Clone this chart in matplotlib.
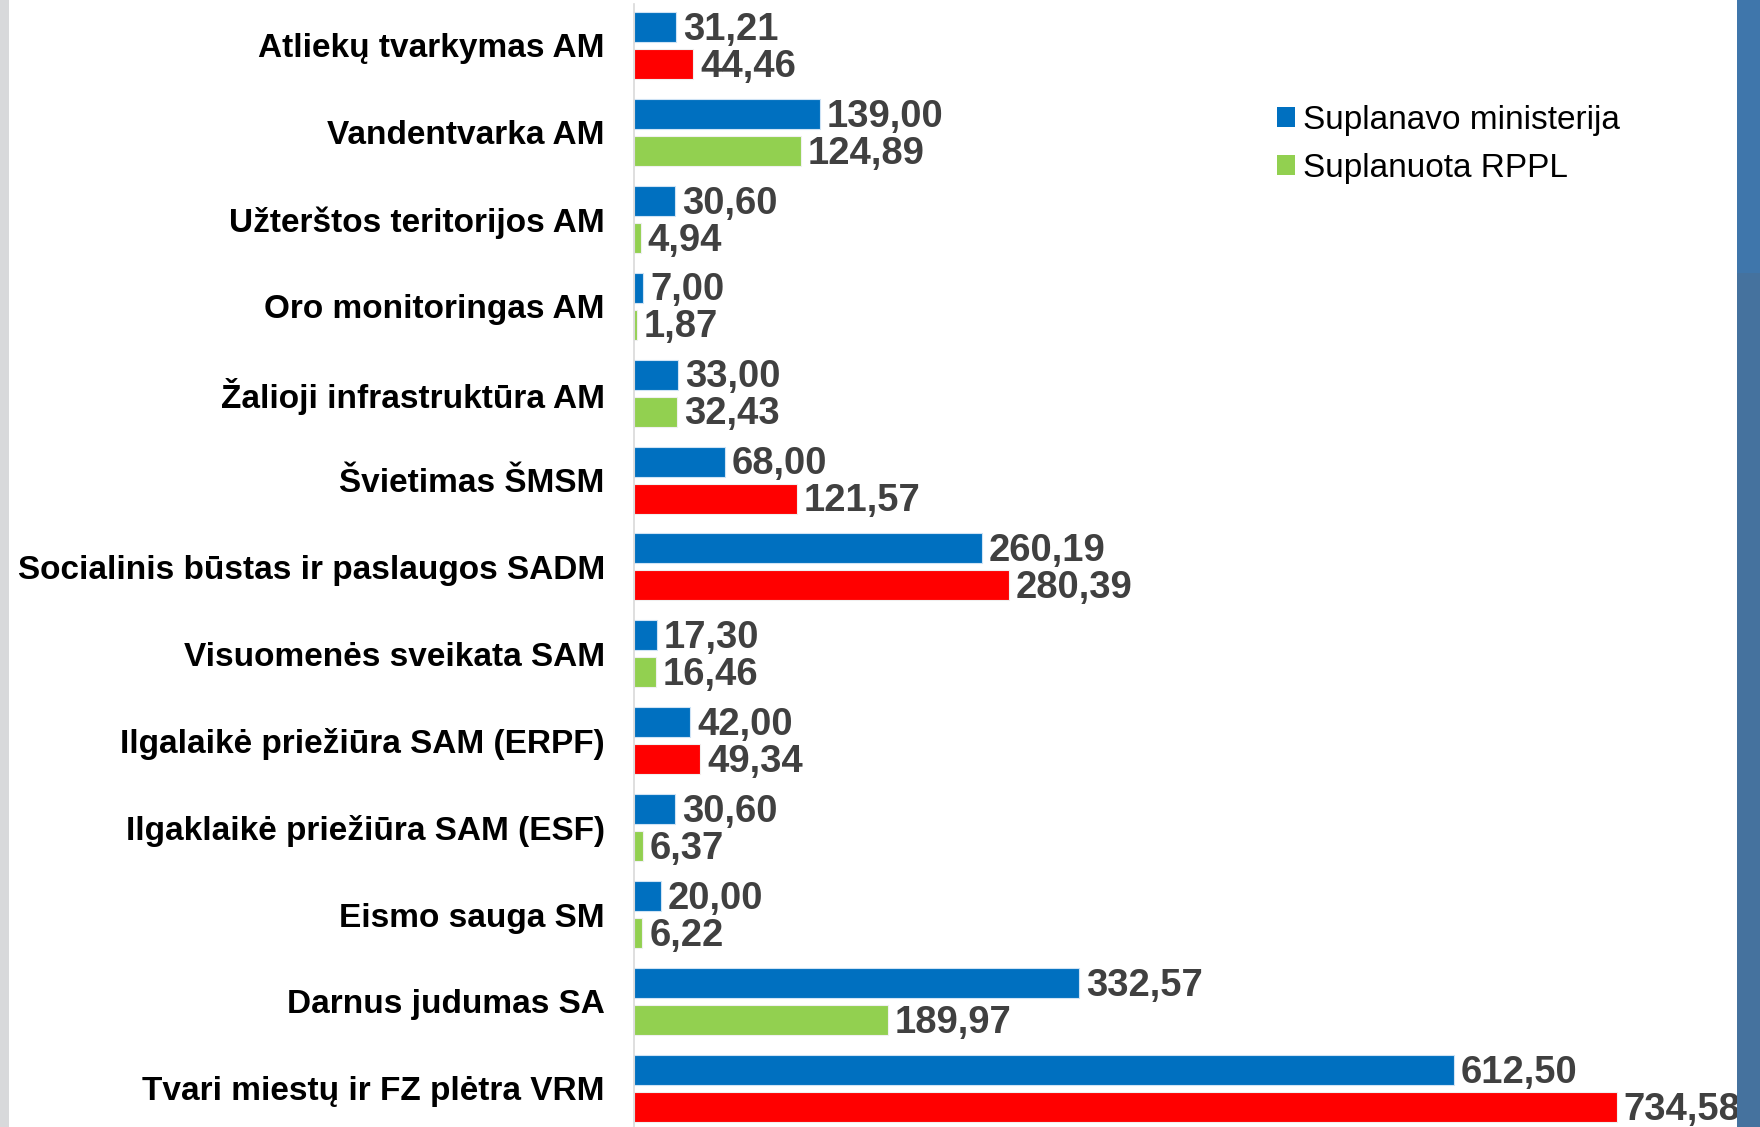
import matplotlib
matplotlib.use("Agg")
import matplotlib.pyplot as plt
from matplotlib.patches import Rectangle, Patch
import numpy as np

categories = [
    "Atliekų tvarkymas AM",
    "Vandentvarka AM",
    "Užterštos teritorijos AM",
    "Oro monitoringas AM",
    "Žalioji infrastruktūra AM",
    "Švietimas ŠMSM",
    "Socialinis būstas ir paslaugos SADM",
    "Visuomenės sveikata SAM",
    "Ilgalaikė priežiūra SAM (ERPF)",
    "Ilgaklaikė priežiūra SAM (ESF)",
    "Eismo sauga SM",
    "Darnus judumas SA",
    "Tvari miestų ir FZ plėtra VRM",
]
ministry = [31.21, 139.00, 30.60, 7.00, 33.00, 68.00, 260.19, 17.30, 42.00, 30.60, 20.00, 332.57, 612.50]
rppl = [44.46, 124.89, 4.94, 1.87, 32.43, 121.57, 280.39, 16.46, 49.34, 6.37, 6.22, 189.97, 734.58]
legend_labels = ["Suplanavo ministerija", "Suplanuota RPPL"]

BLUE = "#0070C0"
GREEN = "#92D050"
RED = "#FF0000"
VAL_COLOR = "#404040"

plt.rcParams['font.family'] = ['Liberation Sans', 'DejaVu Sans']

W, H = 1760, 1127
fig = plt.figure(figsize=(W / 100, H / 100), dpi=100)
fig.patch.set_facecolor("white")

# slide background strips
fig.patches.append(Rectangle((0, 0), 9 / W, 1, transform=fig.transFigure,
                             facecolor="#d8d9db", edgecolor="none", zorder=0))
fig.patches.append(Rectangle((1737 / W, 0), 1 - 1737 / W, 1, transform=fig.transFigure,
                             facecolor="#45729e", edgecolor="none", zorder=0))
fig.patches.append(Rectangle((1737 / W, 1 - 273 / H), 1 - 1737 / W, 273 / H, transform=fig.transFigure,
                             facecolor="#3f76ab", edgecolor="none", zorder=0))

x0 = 634
scale = 1.338  # px per unit
ax = fig.add_axes([x0 / W, 0, (1737 - x0) / W, 1])
ax.set_facecolor("none")
ax.set_xlim(0, (1737 - x0) / scale)
spacing = 86.9
c0 = 45.5
ax.set_ylim((H - c0) / spacing, -c0 / spacing)

n = len(categories)
y = np.arange(n)
off = 18.5 / spacing
h = 30 / spacing
rcolors = [RED if r > m else GREEN for m, r in zip(ministry, rppl)]

ax.barh(y - off, ministry, height=h, color=BLUE, edgecolor="#cfe3f5", linewidth=0.8)
ax.barh(y + off, rppl, height=h, color=rcolors, edgecolor="#f0f0f0", linewidth=0.8)

def fmt(v):
    return f"{v:.2f}".replace(".", ",")

for i in range(n):
    ax.annotate(fmt(ministry[i]), (ministry[i], y[i] - off), xytext=(5, -2),
                textcoords="offset points", va="center", ha="left",
                fontsize=27.5, fontweight="bold", color=VAL_COLOR, clip_on=False)
    ax.annotate(fmt(rppl[i]), (rppl[i], y[i] + off), xytext=(5, -2),
                textcoords="offset points", va="center", ha="left",
                fontsize=27.5, fontweight="bold", color=VAL_COLOR, clip_on=False)

ax.set_yticks(y)
ax.set_yticklabels(categories, fontsize=24, fontweight="bold", color="black")
ax.tick_params(axis="y", length=0, pad=21)
ax.set_xticks([])
for s in ["top", "right", "bottom"]:
    ax.spines[s].set_visible(False)
ax.spines["left"].set_color("#d9d9d9")
ax.spines["left"].set_linewidth(1.2)
ax.spines["left"].set_bounds((H - c0) / spacing, (-c0 + 4) / spacing)

handles = [Patch(facecolor=BLUE, edgecolor="none"), Patch(facecolor=GREEN, edgecolor="none")]
fig.legend(handles, legend_labels, loc="upper left", bbox_to_anchor=(1277 / W, 1 - 105 / H),
           frameon=False, fontsize=24, handlelength=0.55, handleheight=0.55,
           handletextpad=0.22, labelspacing=0.5, borderaxespad=0, borderpad=0)

fig.savefig("out.png", dpi=100)
